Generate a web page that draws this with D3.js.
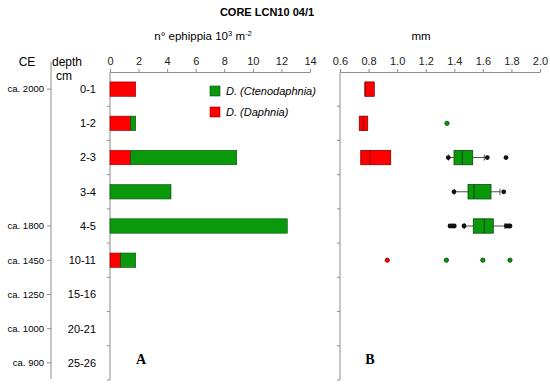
<!DOCTYPE html>
<html>
<head>
<meta charset="utf-8">
<script src="https://cdn.jsdelivr.net/npm/d3@7"></script>
<style>
  body { margin: 0; background: #fff; }
  text { font-family: "Liberation Sans", Arial, sans-serif; }
</style>
</head>
<body>
<div id="chart"></div>
<script>
// data
var depths = ["0-1", "1-2", "2-3", "3-4", "4-5", "10-11", "15-16", "20-21", "25-26"];
var ceLabels = ["ca. 2000", "", "", "", "ca. 1800", "ca. 1450", "ca. 1250", "ca. 1000", "ca. 900"];
var daphnia = [1.8, 1.45, 1.45, 0, 0, 0.75, 0, 0, 0];      // 10^3 ephippia m-2
var cteno   = [0, 0.35, 7.42, 4.27, 12.41, 1.05, 0, 0, 0];

// ephippia length (mm), boxes: depth, q1, median, q3, whisker low, whisker high
var daphniaBox = [
  { depth: "0-1", q1: 0.775, med: 0.775, q3: 0.84, lo: null, hi: null },
  { depth: "1-2", q1: 0.735, med: 0.763, q3: 0.794, lo: null, hi: null },
  { depth: "2-3", q1: 0.745, med: 0.81, q3: 0.955, lo: null, hi: null }
];
var ctenoBox = [
  { depth: "2-3", q1: 1.398, med: 1.456, q3: 1.529, lo: 1.36, hi: 1.61 },
  { depth: "3-4", q1: 1.496, med: 1.538, q3: 1.657, lo: 1.40, hi: 1.72 },
  { depth: "4-5", q1: 1.533, med: 1.61, q3: 1.673, lo: 1.47, hi: 1.755 }
];
// outliers (black dots)
var outliers = [
  { depth: "2-3", v: 1.358 }, { depth: "2-3", v: 1.631 }, { depth: "2-3", v: 1.762 },
  { depth: "3-4", v: 1.398 }, { depth: "3-4", v: 1.746 },
  { depth: "4-5", v: 1.37 }, { depth: "4-5", v: 1.385 }, { depth: "4-5", v: 1.40 },
  { depth: "4-5", v: 1.468 }, { depth: "4-5", v: 1.765 }, { depth: "4-5", v: 1.78 },
  { depth: "4-5", v: 1.79 }
];
// single measurements
var singles = [
  { depth: "1-2", v: 1.349, sp: "cteno" },
  { depth: "10-11", v: 0.931, sp: "daphnia" },
  { depth: "10-11", v: 1.345, sp: "cteno" },
  { depth: "10-11", v: 1.60, sp: "cteno" },
  { depth: "10-11", v: 1.79, sp: "cteno" }
];

var W = 550, H = 384;
var red = "#ff0000", redDark = "#8b0000", green = "#0a990a", greenDark = "#0a4a0a";
var axisCol = "#8c8c8c";

var svg = d3.select("#chart").append("svg")
  .attr("width", W).attr("height", H);

var y = d3.scaleBand().domain(depths).range([72, 380])
  .paddingInner(0.58).paddingOuter(0.29);
var step = y.step();

var xA = d3.scaleLinear().domain([0, 14]).range([110, 310]);
var xB = d3.scaleLinear().domain([0.6, 2.0]).range([340, 540]);

// title
svg.append("text").attr("x", 267).attr("y", 16).attr("text-anchor", "middle")
  .style("font-size", "11px").style("font-weight", "bold").text("CORE LCN10 04/1");

var t = svg.append("text").attr("x", 203).attr("y", 40).attr("text-anchor", "middle")
  .style("font-size", "11.5px");
t.append("tspan").text("n° ephippia 10");
t.append("tspan").attr("dy", -4).style("font-size", "7.5px").text("3");
t.append("tspan").attr("dy", 4).text(" m");
t.append("tspan").attr("dy", -4).style("font-size", "7.5px").text("-2");

svg.append("text").attr("x", 421).attr("y", 40).attr("text-anchor", "middle")
  .style("font-size", "11.5px").text("mm");

svg.append("text").attr("x", 27).attr("y", 66).attr("text-anchor", "middle")
  .style("font-size", "12px").text("CE");
svg.append("text").attr("x", 67).attr("y", 66).attr("text-anchor", "middle")
  .style("font-size", "12px").text("depth");
svg.append("text").attr("x", 64).attr("y", 80).attr("text-anchor", "middle")
  .style("font-size", "12px").text("cm");

// top axes
function topAxis(scale, ticks, fmt) {
  var g = svg.append("g").attr("transform", "translate(0,72)")
    .call(d3.axisTop(scale).tickValues(ticks).tickFormat(fmt).tickSize(3).tickSizeOuter(0));
  g.select(".domain").attr("stroke", axisCol);
  g.selectAll(".tick line").attr("stroke", axisCol);
  g.selectAll("text").style("font-size", "11px").attr("fill", "#222").attr("dy", "-0.1em")
    .style("font-family", "'Liberation Sans', Arial, sans-serif");
}
topAxis(xA, d3.range(0, 15, 2), d3.format("d"));
topAxis(xB, d3.range(0.6, 2.01, 0.2), d3.format(".1f"));

// vertical axes for panels
function vAxis(x0) {
  svg.append("line").attr("x1", x0).attr("x2", x0).attr("y1", 72).attr("y2", 380)
    .attr("stroke", axisCol);
  svg.selectAll(null).data(depths.slice(1)).enter().append("line")
    .attr("x1", x0 - 3).attr("x2", x0)
    .attr("y1", (d, i) => 72 + (i + 1) * step)
    .attr("y2", (d, i) => 72 + (i + 1) * step)
    .attr("stroke", axisCol);
  svg.append("line").attr("x1", x0 - 3).attr("x2", x0).attr("y1", 380).attr("y2", 380)
    .attr("stroke", axisCol);
}
vAxis(110);
vAxis(340);

// CE axis
svg.append("line").attr("x1", 51).attr("x2", 51).attr("y1", 62).attr("y2", 379)
  .attr("stroke", axisCol);
var ce = depths.map((d, i) => ({ depth: d, label: ceLabels[i] })).filter(d => d.label);
svg.selectAll(".ce").data(ce).enter().append("line")
  .attr("x1", 47).attr("x2", 51)
  .attr("y1", d => y(d.depth) + y.bandwidth() / 2)
  .attr("y2", d => y(d.depth) + y.bandwidth() / 2)
  .attr("stroke", axisCol);
svg.selectAll(".celab").data(ce).enter().append("text")
  .attr("x", 44).attr("y", d => y(d.depth) + y.bandwidth() / 2)
  .attr("dy", "0.35em").attr("text-anchor", "end")
  .style("font-size", "9.5px").text(d => d.label);

// depth labels
svg.selectAll(".dlab").data(depths).enter().append("text")
  .attr("x", 96).attr("y", d => y(d) + y.bandwidth() / 2)
  .attr("dy", "0.35em").attr("text-anchor", "end")
  .style("font-size", "11px").text(d => d);

// panel A: stacked bars
var rows = depths.map((d, i) => ({ depth: d, daphnia: daphnia[i], cteno: cteno[i] }));
var stack = d3.stack().keys(["daphnia", "cteno"])(rows);
var fills = { daphnia: red, cteno: green };
var strokes = { daphnia: redDark, cteno: greenDark };
stack.forEach(function (layer) {
  svg.append("g").selectAll("rect")
    .data(layer.filter(d => d[1] > d[0]))
    .enter().append("rect")
    .attr("x", d => xA(d[0]))
    .attr("y", d => y(d.data.depth))
    .attr("width", d => xA(d[1]) - xA(d[0]))
    .attr("height", y.bandwidth())
    .attr("fill", fills[layer.key])
    .attr("stroke", strokes[layer.key]).attr("stroke-width", 0.6);
});

// legend
var legend = [
  { label: "D. (Ctenodaphnia)", fill: green, stroke: greenDark, y: 86 },
  { label: "D. (Daphnia)", fill: red, stroke: redDark, y: 107 }
];
legend.forEach(function (l) {
  svg.append("rect").attr("x", 210).attr("y", l.y).attr("width", 10).attr("height", 10)
    .attr("fill", l.fill).attr("stroke", l.stroke).attr("stroke-width", 0.6);
  var lt = svg.append("text").attr("x", 226).attr("y", l.y + 5).attr("dy", "0.35em")
    .style("font-size", "11px").style("font-style", "italic");
  lt.append("tspan").text(l.label);
});

// panel B: box plots
function drawBoxes(data, fill, stroke) {
  var g = svg.append("g");
  data.forEach(function (b) {
    var y0 = y(b.depth), h = y.bandwidth(), cy = y0 + h / 2;
    if (b.lo != null) {
      g.append("line").attr("x1", xB(b.lo)).attr("x2", xB(b.q1)).attr("y1", cy).attr("y2", cy)
        .attr("stroke", "#222").attr("stroke-width", 0.8);
      g.append("line").attr("x1", xB(b.lo)).attr("x2", xB(b.lo)).attr("y1", cy - 3).attr("y2", cy + 3)
        .attr("stroke", "#222").attr("stroke-width", 0.8);
    }
    if (b.hi != null) {
      g.append("line").attr("x1", xB(b.q3)).attr("x2", xB(b.hi)).attr("y1", cy).attr("y2", cy)
        .attr("stroke", "#222").attr("stroke-width", 0.8);
      g.append("line").attr("x1", xB(b.hi)).attr("x2", xB(b.hi)).attr("y1", cy - 3).attr("y2", cy + 3)
        .attr("stroke", "#222").attr("stroke-width", 0.8);
    }
    g.append("rect").attr("x", xB(b.q1)).attr("y", y0)
      .attr("width", xB(b.q3) - xB(b.q1)).attr("height", h)
      .attr("fill", fill).attr("stroke", stroke).attr("stroke-width", 0.8);
    g.append("line").attr("x1", xB(b.med)).attr("x2", xB(b.med)).attr("y1", y0).attr("y2", y0 + h)
      .attr("stroke", stroke).attr("stroke-width", 1);
  });
}
drawBoxes(daphniaBox, red, redDark);
drawBoxes(ctenoBox, green, greenDark);

svg.append("g").selectAll("circle").data(outliers).enter().append("circle")
  .attr("cx", d => xB(d.v)).attr("cy", d => y(d.depth) + y.bandwidth() / 2)
  .attr("r", 2.4).attr("fill", "#111");

svg.append("g").selectAll("circle").data(singles).enter().append("circle")
  .attr("cx", d => xB(d.v)).attr("cy", d => y(d.depth) + y.bandwidth() / 2)
  .attr("r", 2.1)
  .attr("fill", d => d.sp === "cteno" ? green : red)
  .attr("stroke", d => d.sp === "cteno" ? greenDark : redDark).attr("stroke-width", 0.9);

// panel letters
svg.append("text").attr("x", 141).attr("y", 364).attr("text-anchor", "middle")
  .style("font-family", "'Liberation Serif', 'Times New Roman', serif")
  .style("font-size", "14px").style("font-weight", "bold").text("A");
svg.append("text").attr("x", 370).attr("y", 364).attr("text-anchor", "middle")
  .style("font-family", "'Liberation Serif', 'Times New Roman', serif")
  .style("font-size", "14px").style("font-weight", "bold").text("B");
</script>
</body>
</html>
